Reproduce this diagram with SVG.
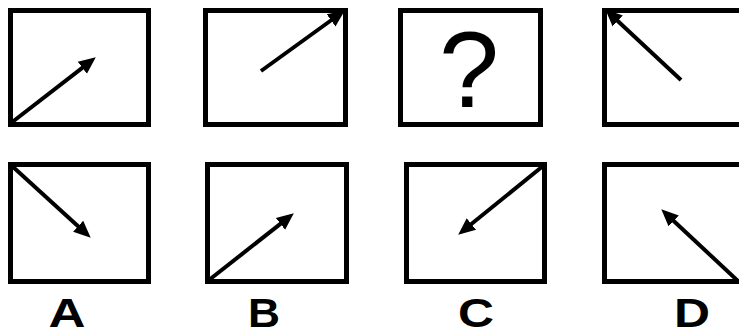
<svg xmlns="http://www.w3.org/2000/svg" width="739" height="336" viewBox="0 0 739 336">
<style>
.box{fill:#fff;stroke:#000;stroke-width:5}
.arr{fill:none;stroke:#000;stroke-width:4;stroke-linecap:butt;marker-end:url(#ah)}
.lbl{font-family:"Liberation Sans",Arial,sans-serif;font-weight:bold;font-size:40px;fill:#000;text-anchor:middle}
.q{font-family:"Liberation Sans",Arial,sans-serif;font-size:108px;fill:#000;text-anchor:middle}
</style>
<defs>
<marker id="ah" markerUnits="userSpaceOnUse" markerWidth="22" markerHeight="18" viewBox="0 -9 22 18" refX="4" refY="0" orient="auto">
<path d="M0,-7.5 L17,0 L0,7.5 z" fill="#000"/>
</marker>
</defs>
<rect width="739" height="336" fill="#fff"/>
<g id="box1"><rect class="box" x="10.5" y="10.5" width="138" height="114"/></g>
<g id="box2"><rect class="box" x="205.5" y="10.5" width="140" height="114"/></g>
<g id="box3"><rect class="box" x="400.5" y="10.5" width="140" height="114"/><text class="q" x="469" y="107">?</text></g>
<g id="box4"><rect class="box" x="604.5" y="10.5" width="140" height="114"/></g>
<g id="optA"><rect class="box" x="10.5" y="164.5" width="138" height="117"/><text class="lbl" x="67" y="327" textLength="37" lengthAdjust="spacingAndGlyphs">A</text></g>
<g id="optB"><rect class="box" x="207.5" y="164.5" width="139" height="117"/><text class="lbl" x="264" y="327" textLength="32" lengthAdjust="spacingAndGlyphs">B</text></g>
<g id="optC"><rect class="box" x="406.5" y="164.5" width="138" height="117"/><text class="lbl" x="476" y="327" textLength="36" lengthAdjust="spacingAndGlyphs">C</text></g>
<g id="optD"><rect class="box" x="604.5" y="164.5" width="140" height="117"/><text class="lbl" x="692" y="327" textLength="36" lengthAdjust="spacingAndGlyphs">D</text></g>
<g id="connectors">
<line class="arr" x1="11" y1="123" x2="85.5" y2="65.3"/>
<line class="arr" x1="261" y1="71" x2="334.3" y2="18"/>
<line class="arr" x1="681" y1="80" x2="614.8" y2="18.2"/>
<line class="arr" x1="12" y1="166" x2="81.1" y2="228.9"/>
<line class="arr" x1="209" y1="280" x2="283.6" y2="221.4"/>
<line class="arr" x1="543" y1="166" x2="468.3" y2="226.5"/>
<line class="arr" x1="738" y1="281" x2="670.8" y2="218.2"/>
</g>
</svg>
